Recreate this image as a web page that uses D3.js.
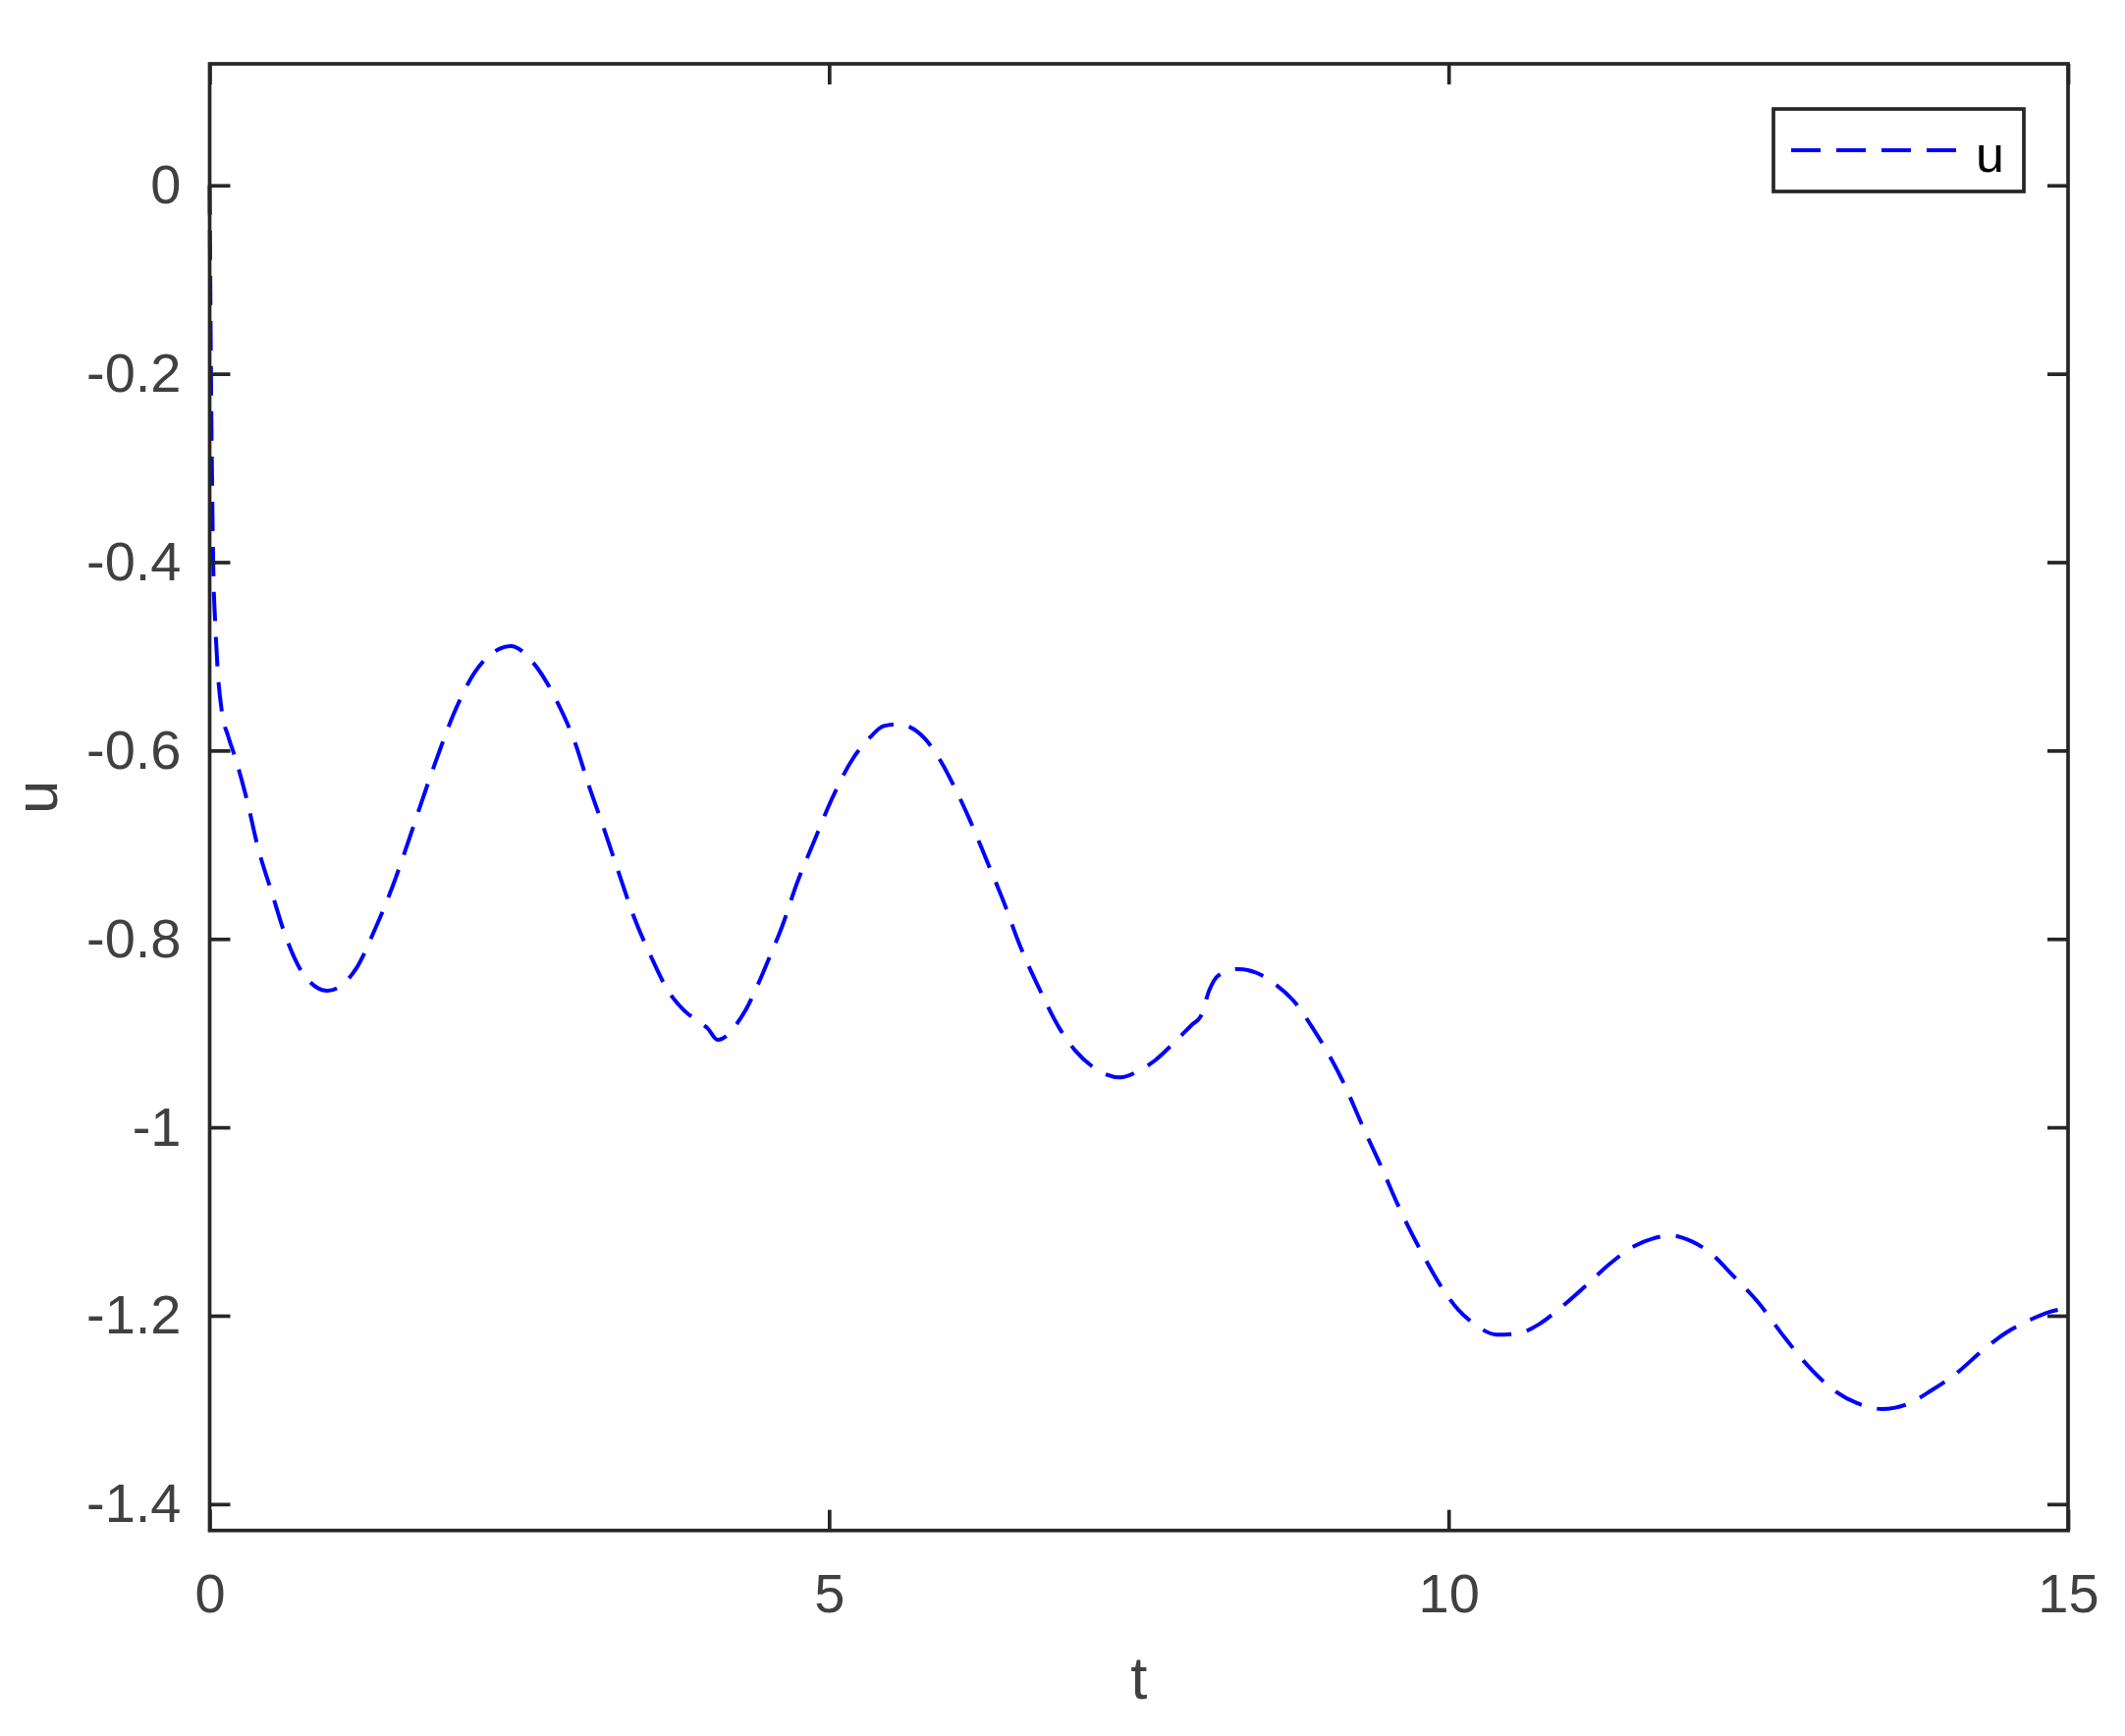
<!DOCTYPE html>
<html lang="en">
<head>
    <meta charset="UTF-8">
    <title>u(t)</title>
    <style>
        body { margin: 0; background: #fff; }
        svg text { font-family: "Liberation Sans", Arial, sans-serif; }
    </style>
</head>
<body>
    <div id="chart"></div>
    <script src="https://cdn.jsdelivr.net/npm/d3@7"></script>
    <script>
        // values
        const tValues = [0, 0.005, 0.012, 0.02, 0.03, 0.045, 0.065, 0.1, 0.15, 0.21, 0.3, 0.39, 0.5, 0.61, 0.76, 0.95,
            1.18, 1.34, 1.48, 1.6, 1.72, 1.84, 1.97, 2.14, 2.3, 2.43, 2.6, 2.8, 2.95, 3.06, 3.18, 3.3, 3.42, 3.56, 3.7,
            3.83, 3.95, 4.02, 4.1, 4.18, 4.25, 4.32, 4.42, 4.52, 4.62, 4.74, 4.88, 5.02, 5.19, 5.33, 5.44, 5.55, 5.65,
            5.77, 5.9, 6.02, 6.13, 6.27, 6.41, 6.54, 6.69, 6.86, 6.99, 7.12, 7.35, 7.5, 7.63, 7.8, 7.93, 8.0, 8.07,
            8.14, 8.3, 8.45, 8.6, 8.77, 8.9, 9.03, 9.15, 9.3, 9.45, 9.6, 9.8, 9.95, 10.08, 10.2, 10.39, 10.55, 10.73,
            10.9, 11.1, 11.3, 11.5, 11.65, 11.8, 11.96, 12.1, 12.3, 12.5, 12.7, 12.9, 13.1, 13.3, 13.5, 13.7, 13.9,
            14.1, 14.3, 14.5, 14.7, 14.85, 15];
        const uValues = [0, -0.1, -0.22, -0.32, -0.41, -0.465, -0.515, -0.56, -0.585, -0.609, -0.652, -0.703, -0.75,
            -0.796, -0.838, -0.855, -0.832, -0.788, -0.743, -0.698, -0.651, -0.606, -0.561, -0.517, -0.495, -0.489,
            -0.505, -0.547, -0.592, -0.637, -0.682, -0.729, -0.775, -0.818, -0.855, -0.876, -0.888, -0.895, -0.907,
            -0.902, -0.891, -0.877, -0.85, -0.819, -0.787, -0.741, -0.696, -0.652, -0.609, -0.586, -0.574, -0.572,
            -0.575, -0.587, -0.611, -0.641, -0.672, -0.716, -0.761, -0.807, -0.851, -0.895, -0.919, -0.935, -0.947,
            -0.94, -0.929, -0.908, -0.891, -0.882, -0.854, -0.839, -0.832, -0.836, -0.848, -0.869, -0.894, -0.922,
            -0.952, -0.997, -1.04, -1.085, -1.137, -1.171, -1.194, -1.208, -1.22, -1.219, -1.209, -1.192, -1.169,
            -1.145, -1.126, -1.118, -1.115, -1.121, -1.132, -1.158, -1.186, -1.221, -1.253, -1.278, -1.293, -1.299,
            -1.294, -1.279, -1.261, -1.238, -1.218, -1.204, -1.196, -1.192];
        const xTicks = [0, 5, 10, 15];
        const yTicks = [0, -0.2, -0.4, -0.6, -0.8, -1, -1.2, -1.4];
        const seriesName = "u";

        const data = tValues.map((t, i) => ({t: t, u: uValues[i]}));

        const W = 2164, H = 1768;
        const m = {left: 213.5, right: 2106, top: 65, bottom: 1558.7};
        const axisColor = "#262626", labelColor = "#404040";

        const x = d3.scaleLinear().domain([0, 15]).range([m.left, m.right]);
        const y = d3.scaleLinear().domain([-1.428, 0.129]).range([m.bottom, m.top]);

        const svg = d3.select("#chart").append("svg")
            .attr("width", W).attr("height", H);
        svg.append("rect").attr("width", W).attr("height", H).attr("fill", "#fff");

        // data line
        const line = d3.line().x(d => x(d.t)).y(d => y(d.u)).curve(d3.curveMonotoneX);
        svg.append("path").datum(data)
            .attr("d", line)
            .attr("fill", "none")
            .attr("stroke", "#0000ff")
            .attr("stroke-width", 4)
            .attr("stroke-dasharray", "30,16");

        const fmt = d => String(d);
        const styleAxis = g => {
            g.select(".domain").remove();
            g.selectAll(".tick line").attr("stroke", axisColor).attr("stroke-width", 3.7);
            g.selectAll(".tick text").attr("fill", labelColor).style("font-size", "56px");
        };

        svg.append("g").attr("transform", `translate(0,${m.bottom})`)
            .call(d3.axisBottom(x).tickValues(xTicks).tickFormat(fmt).tickSize(-21).tickPadding(44))
            .call(styleAxis);
        svg.append("g").attr("transform", `translate(0,${m.top})`)
            .call(d3.axisTop(x).tickValues(xTicks).tickFormat("").tickSize(-21))
            .call(styleAxis);
        svg.append("g").attr("transform", `translate(${m.left},0)`)
            .call(d3.axisLeft(y).tickValues(yTicks).tickFormat(fmt).tickSize(-21).tickPadding(29))
            .call(styleAxis);
        svg.append("g").attr("transform", `translate(${m.right},0)`)
            .call(d3.axisRight(y).tickValues(yTicks).tickFormat("").tickSize(-21))
            .call(styleAxis);

        // box
        svg.append("rect")
            .attr("x", m.left).attr("y", m.top)
            .attr("width", m.right - m.left).attr("height", m.bottom - m.top)
            .attr("fill", "none").attr("stroke", axisColor).attr("stroke-width", 3.7);

        // axis titles
        svg.append("text").attr("x", (m.left + m.right) / 2).attr("y", 1730)
            .attr("text-anchor", "middle").attr("fill", labelColor)
            .style("font-size", "61.6px").text("t");
        svg.append("text")
            .attr("transform", `translate(58,${(m.top + m.bottom) / 2}) rotate(-90)`)
            .attr("text-anchor", "middle").attr("fill", labelColor)
            .style("font-size", "61.6px").text("u");

        // legend
        const legend = svg.append("g");
        legend.append("rect")
            .attr("x", 1806).attr("y", 111).attr("width", 255).attr("height", 84)
            .attr("fill", "#fff").attr("stroke", axisColor).attr("stroke-width", 3.7);
        legend.append("line")
            .attr("x1", 1824).attr("x2", 1993).attr("y1", 153).attr("y2", 153)
            .attr("stroke", "#0000ff").attr("stroke-width", 4)
            .attr("stroke-dasharray", "30,16");
        legend.append("text").attr("x", 2012).attr("y", 175)
            .attr("fill", "#000").style("font-size", "52px").text(seriesName);
    </script>
</body>
</html>
